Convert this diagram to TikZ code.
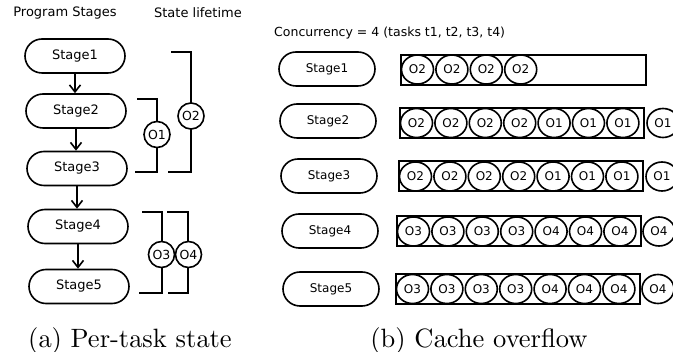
\documentclass[tikz,border=0pt]{standalone}
\usepackage{fontspec}
\newfontfamily\dv{DejaVu Sans}
\usetikzlibrary{arrows.meta,shapes.geometric}
\font\capfnt=cmr10 at 26.5pt
\begin{document}
\begin{tikzpicture}[x=1pt,y=-1pt,
 stagebox/.style={draw, line width=1.6pt, rounded corners=17pt, minimum width=100pt, minimum height=34pt, inner sep=0pt, font=\dv\fontsize{13}{15}\selectfont},
 stageboxr/.style={stagebox, minimum width=96pt, font=\dv\fontsize{12}{14}\selectfont},
 arr/.style={line width=1.6pt, -{Straight Barb[length=7pt,width=11pt,line width=1.6pt]}},
 brk/.style={line width=2pt},
 lcirc/.style={draw, circle, fill=white, line width=1.6pt, minimum size=26pt, inner sep=0pt, font=\dv\fontsize{12.5}{14}\selectfont},
 rcirc/.style={draw, ellipse, fill=white, line width=1.6pt, minimum width=32pt, minimum height=29pt, inner sep=0pt, font=\dv\fontsize{12}{14}\selectfont},
 cbox/.style={draw, line width=2pt, minimum height=30pt, inner sep=0pt, anchor=west},
 head/.style={font=\dv\fontsize{13}{15}\selectfont, inner sep=0pt},
 captxt/.style={font=\capfnt, inner sep=0pt, anchor=base}
]
\useasboundingbox (0,0) rectangle (673,352);

% ---------- (a) ----------
\node[head] (h1) at (65,13) {Program Stages};
\node[head] (h2) at (198,13) {State lifetime};

\node[stagebox] (s1) at (75,56) {Stage1};
\node[stagebox] (s2) at (76,111) {Stage2};
\node[stagebox] (s3) at (77,168.5) {Stage3};
\node[stagebox] (s4) at (78,226.5) {Stage4};
\node[stagebox] (s5) at (79,286.5) {Stage5};

\draw[arr] (s1.south) -- (s1.south |- s2.north);
\draw[arr] (s2.south) -- (s2.south |- s3.north);
\draw[arr] (s3.south) -- (s3.south |- s4.north);
\draw[arr] (s4.south) -- (s4.south |- s5.north);

\draw[brk] (137,99) -- (157,99) -- (157,172) -- (135,172);
\draw[brk] (171,52) -- (191,52) -- (191,172) -- (168,172);
\draw[brk] (142,212) -- (162,212) -- (162,293) -- (139,293);
\draw[brk] (167,212) -- (188,212) -- (188,293) -- (168,293);
\node[lcirc] (o1) at (157,134.5) {O1};
\node[lcirc] (o2) at (191,116) {O2};
\node[lcirc] (o3) at (161.5,254.5) {O3};
\node[lcirc] (o4) at (188.5,254.5) {O4};

\node[captxt] (capa) at (130,347.5) {(a) Per-task state};

% ---------- (b) ----------
\node[head, anchor=west, font=\dv\fontsize{12.5}{14}\selectfont] (h3) at (274,33) {Concurrency = 4 (tasks t1, t2, t3, t4)};

\node[stageboxr] (r1) at (327,69) {Stage1};
\node[stageboxr] (r2) at (328,121) {Stage2};
\node[stageboxr] (r3) at (329,176) {Stage3};
\node[stageboxr] (r4) at (330,231) {Stage4};
\node[stageboxr] (r5) at (331,289) {Stage5};

\node[cbox, minimum width=245pt] (b1) at (400,70) {};
\node[cbox, minimum width=244pt] (b2) at (399,123) {};
\node[cbox, minimum width=244pt] (b3) at (398,176.5) {};
\node[cbox, minimum width=244pt] (b4) at (396,231.5) {};
\node[cbox, minimum width=244pt] (b5) at (395,289) {};

\foreach \i in {0,...,3}
  \node[rcirc] (c1-\i) at (417.5+34.4*\i,69.5) {O2};

\foreach \row/\L/\Y in {2/399/123,3/398/176.5}{
  \foreach \i in {0,...,3}
    \node[rcirc] (c\row-\i) at (\L+17.5+34.4*\i,\Y) {O2};
  \foreach \i in {4,...,6}
    \node[rcirc] (c\row-\i) at (\L+17.5+34.4*\i,\Y) {O1};
  \node[rcirc] (c\row-x) at (\L+264,\Y) {O1};
}
\foreach \row/\L/\Y in {4/396/231.5,5/395/289}{
  \foreach \i in {0,...,3}
    \node[rcirc] (c\row-\i) at (\L+17.5+34.4*\i,\Y) {O3};
  \foreach \i in {4,...,6}
    \node[rcirc] (c\row-\i) at (\L+17.5+34.4*\i,\Y) {O4};
  \node[rcirc] (c\row-x) at (\L+263,\Y) {O4};
}

\node[captxt] (capb) at (479,347.5) {(b) Cache overflow};
\end{tikzpicture}
\end{document}
